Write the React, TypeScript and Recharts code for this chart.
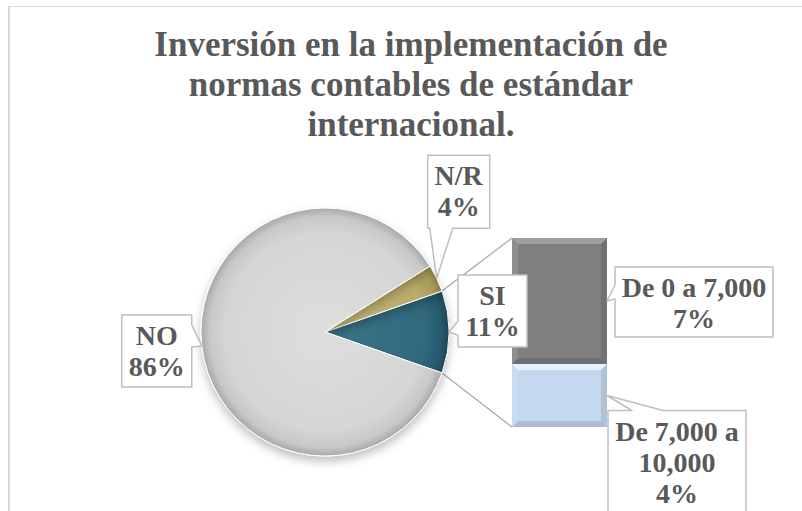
import React from 'react';
import { PieChart, Pie, Cell, BarChart, Bar, XAxis, YAxis } from 'recharts';

// Data (counts read from the slice / bar proportions)
const titleLines = ['Inversión en la implementación de', 'normas contables de estándar', 'internacional.'];
const mainCategories = ['SI', 'N/R', 'NO'];
const mainCounts = [3, 1, 24];
const siCategories = ['De 0 a 7,000', 'De 7,000 a 10,000'];
const siCounts = [2, 1];

const totalCount = mainCounts.reduce((a, b) => a + b, 0);
const siTotal = siCounts.reduce((a, b) => a + b, 0);

const pieData = mainCategories.map((name, i) => ({ name, value: mainCounts[i] }));
const barRow: Record<string, any> = { name: mainCategories[0] };
siCategories.forEach((c, i) => { barRow[`s${i}`] = siCounts[i]; });
const barData = [barRow];

// Layout
const W = 802;
const H = 511;
const PIE_CX = 325;
const PIE_CY = 332;
const PIE_R = 124;
const startAngle = -(mainCounts[0] / totalCount) * 180;

const TEXT = '#595959';
const FONT = 'Liberation Serif';

const pieFills = ['url(#gSi)', 'url(#gNr)', 'url(#gNo)'];
const barFills = ['#7f7f7f', '#c4d8f0'];

// callout boxes, offsets relative to the point they point at; base = pointer foot along the box side
const pieBoxes: Record<string, any> = {
  'SI': { dx: 9, dy: -57, w: 69, h: 72, base: [46, 60] },
  'N/R': { dx: -9, dy: -123, w: 62, h: 73, base: [2, 25] },
  'NO': { dx: -80, dy: -31, w: 70, h: 72, base: [10, 32] },
};
const barBoxes = [
  { dx: 8, dy: -34, w: 158, h: 70, wrap: 14, base: [18, 32] },
  { dx: 1, dy: 15, w: 138, h: 110, wrap: 10, base: [24, 55] },
];

const wrapText = (s: string, max: number) => {
  const out: string[] = [];
  let cur = '';
  s.split(' ').forEach((w) => {
    const next = cur ? cur + ' ' + w : w;
    if (next.length > max && cur) { out.push(cur); cur = w; } else cur = next;
  });
  if (cur) out.push(cur);
  return out;
};

const Callout = ({ tx, ty, box, lines }: any) => {
  const x = tx + box.dx;
  const y = ty + box.dy;
  const { w, h } = box;
  const d = { left: x - tx, right: tx - (x + w), top: y - ty, bottom: ty - (y + h) };
  const side = (Object.keys(d) as (keyof typeof d)[]).reduce((a, b) => (d[b] > d[a] ? b : a));
  const [b0, b1] = box.base;
  let p = `M${x},${y}`;
  if (side === 'top') p += ` L${x + b0},${y} L${tx},${ty} L${x + b1},${y}`;
  p += ` L${x + w},${y}`;
  if (side === 'right') p += ` L${x + w},${y + b0} L${tx},${ty} L${x + w},${y + b1}`;
  p += ` L${x + w},${y + h}`;
  if (side === 'bottom') p += ` L${x + b1},${y + h} L${tx},${ty} L${x + b0},${y + h}`;
  p += ` L${x},${y + h}`;
  if (side === 'left') p += ` L${x},${y + b1} L${tx},${ty} L${x},${y + b0}`;
  p += ' Z';
  return (
    <g>
      <path d={p} fill="#fff" stroke="#bfbfbf" strokeWidth={1.5} strokeLinejoin="round" />
      {lines.map((t: string, i: number) => (
        <text key={i} x={x + w / 2} y={y + 30 + i * 31} textAnchor="middle"
          fontFamily={FONT} fontWeight="bold" fontSize={28} fill={TEXT}>{t}</text>
      ))}
    </g>
  );
};

const renderPieLabel = (props: any) => {
  const { cx, cy, midAngle, outerRadius, percent, index } = props;
  const name = mainCategories[index];
  const rad = (midAngle * Math.PI) / 180;
  const tx = cx + outerRadius * Math.cos(rad);
  const ty = cy - outerRadius * Math.sin(rad);
  return <Callout tx={tx} ty={ty} box={pieBoxes[name]} lines={[name, `${Math.round(percent * 100)}%`]} />;
};

// corners of the SI slice, where the connector lines start
const siCorner = (sign: number) => {
  const a = ((startAngle * sign) * Math.PI) / 180;
  return { x: PIE_CX + PIE_R * Math.cos(a), y: PIE_CY + PIE_R * Math.sin(a) };
};

const makeBarShape = (i: number) => (props: any) => {
  const { x, y, width, height } = props;
  const isTop = i === 0;
  const corner = isTop ? siCorner(1) : siCorner(-1);
  const lx = x;
  const ly = isTop ? y : y + height;
  const b = 6;
  const pct = Math.round((siCounts[i] / totalCount) * 100);
  const box = barBoxes[i];
  return (
    <g>
      <line x1={corner.x} y1={corner.y} x2={lx} y2={ly} stroke="#a6a6a6" strokeWidth={1.2} />
      <rect x={x} y={y} width={width} height={height} fill={barFills[i]} />
      <path d={`M${x},${y} L${x + width},${y} L${x + width - b},${y + b} L${x + b},${y + b} Z`}
        fill="#fff" opacity={isTop ? 0.25 : 0.6} />
      <path d={`M${x},${y + height} L${x + width},${y + height} L${x + width - b},${y + height - b} L${x + b},${y + height - b} Z`}
        fill="#000" opacity={0.12} />
      <path d={`M${x},${y} L${x + b},${y + b} L${x + b},${y + height - b} L${x},${y + height} Z`}
        fill="#fff" opacity={0.12} />
      <path d={`M${x + width},${y} L${x + width - b},${y + b} L${x + width - b},${y + height - b} L${x + width},${y + height} Z`}
        fill="#000" opacity={0.1} />
      <Callout tx={x + width} ty={y + height / 2} box={box}
        lines={[...wrapText(siCategories[i], box.wrap), `${pct}%`]} />
    </g>
  );
};

export default function App() {
  return (
    <div style={{ position: 'absolute', left: 0, top: 0, width: W, height: H, overflow: 'hidden', background: '#fff' }}>
      <div style={{ position: 'absolute', left: 8, top: 6, width: 1000, height: 1000, borderLeft: '2px solid #d9d9d9', borderTop: '1px solid #d9d9d9' }} />
      <div style={{ position: 'absolute', left: 0, top: 0 }}>
        <BarChart width={W} height={H} data={barData} barCategoryGap={0}
          margin={{ top: 238, right: 195, bottom: 84, left: 512 }}>
          <XAxis dataKey="name" hide />
          <YAxis hide domain={[0, siTotal]} />
          {siCategories.map((c, i) => i).reverse().map((i) => (
            <Bar key={i} dataKey={`s${i}`} stackId="si" fill={barFills[i]}
              shape={makeBarShape(i)} isAnimationActive={false} />
          ))}
        </BarChart>
      </div>
      <div style={{ position: 'absolute', left: 0, top: 0 }}>
        <PieChart width={W} height={H} margin={{ top: 0, right: 0, bottom: 0, left: 0 }}>
          <defs>
            <radialGradient id="gNo" gradientUnits="userSpaceOnUse" cx={PIE_CX} cy={PIE_CY} r={PIE_R}>
              <stop offset="0" stopColor="#dedede" />
              <stop offset="0.8" stopColor="#d5d5d5" />
              <stop offset="0.93" stopColor="#c8c8c8" />
              <stop offset="1" stopColor="#a8a8a8" />
            </radialGradient>
            <radialGradient id="gNr" gradientUnits="userSpaceOnUse" cx={PIE_CX} cy={PIE_CY} r={PIE_R}>
              <stop offset="0" stopColor="#c6b97c" />
              <stop offset="0.8" stopColor="#b9ab68" />
              <stop offset="0.93" stopColor="#aa9c5a" />
              <stop offset="1" stopColor="#8c7e42" />
            </radialGradient>
            <radialGradient id="gSi" gradientUnits="userSpaceOnUse" cx={PIE_CX} cy={PIE_CY} r={PIE_R}>
              <stop offset="0" stopColor="#3d7589" />
              <stop offset="0.8" stopColor="#31697d" />
              <stop offset="0.93" stopColor="#295b6e" />
              <stop offset="1" stopColor="#1c4757" />
            </radialGradient>
            <filter id="pieShadow" x="-20%" y="-20%" width="140%" height="150%">
              <feDropShadow dx="0" dy="5" stdDeviation="5" floodColor="#000" floodOpacity="0.25" />
            </filter>
          </defs>
          <Pie data={pieData} dataKey="value" nameKey="name" cx={PIE_CX} cy={PIE_CY}
            innerRadius={0} outerRadius={PIE_R} startAngle={startAngle} endAngle={startAngle + 360}
            stroke="#fff" strokeWidth={1} label={renderPieLabel} labelLine={false}
            isAnimationActive={false}>
            {pieData.map((entry, i) => (
              <Cell key={`cell-${i}`} fill={pieFills[i]} filter="url(#pieShadow)" />
            ))}
          </Pie>
        </PieChart>
      </div>
      <div style={{ position: 'absolute', left: 0, top: 25, width: 822, textAlign: 'center', fontFamily: FONT,
        fontWeight: 'bold', fontSize: 35, lineHeight: '40px', color: TEXT }}>
        {titleLines.map((t, i) => <div key={i}>{t}</div>)}
      </div>
    </div>
  );
}
